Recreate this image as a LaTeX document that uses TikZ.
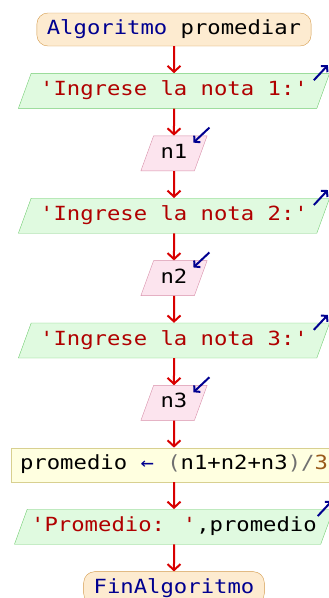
\documentclass[tikz,border=0pt]{standalone}
\usepackage{fontspec}
\usepackage{xcolor}
\usetikzlibrary{positioning,arrows.meta,shapes.geometric}
\newfontfamily\psefont[FakeStretch=1.14,Ligatures=TeXOff]{DejaVu Sans Mono}
\definecolor{flowred}{HTML}{D80000}
\definecolor{kwblue}{HTML}{000090}
\definecolor{strred}{HTML}{B00000}
\definecolor{numbrown}{HTML}{9A5A1A}
\definecolor{opgray}{HTML}{707070}
\definecolor{termfill}{HTML}{FDEBD0}
\definecolor{termdraw}{HTML}{D49A4A}
\definecolor{iofill}{HTML}{E0FAE0}
\definecolor{iodraw}{HTML}{70CC70}
\definecolor{readfill}{HTML}{FCE4EE}
\definecolor{readdraw}{HTML}{D890AA}
\definecolor{asgfill}{HTML}{FFFFE0}
\definecolor{asgdraw}{HTML}{D8D090}

\begin{document}
\begin{tikzpicture}[
    x=1pt, y=1pt,
    node distance=27pt,
    font=\psefont\fontsize{19.5}{22}\selectfont,
    term/.style={draw=termdraw, fill=termfill, rounded corners=11pt, minimum height=33pt, inner xsep=10pt, text height=14pt, text depth=4pt},
    io/.style={draw=iodraw, fill=iofill, trapezium, trapezium left angle=70, trapezium right angle=110, inner ysep=8.5pt, inner xsep=9pt, text height=14pt, text depth=4pt},
    readbox/.style={io, draw=readdraw, fill=readfill, inner xsep=7pt},
    asgbox/.style={draw=asgdraw, fill=asgfill, minimum height=34pt, inner xsep=9pt, text height=14pt, text depth=4pt},
    flow/.style={-{Straight Barb[length=6pt,width=13pt]}, flowred, line width=2pt},
    tag/.style={-{Straight Barb[length=4pt,width=9pt]}, kwblue, line width=2pt}
]
\useasboundingbox (0,0) rectangle (329,-598);

\node[term] (inicio) at (174,-29.5) {{\color{kwblue}Algoritmo} promediar};
\node[io, below=of inicio] (msg1) {\color{strred}'Ingrese la nota 1:'};
\node[readbox, below=of msg1] (n1) {n1};
\node[io, below=of n1] (msg2) {\color{strred}'Ingrese la nota 2:'};
\node[readbox, below=of msg2] (n2) {n2};
\node[io, below=of n2] (msg3) {\color{strred}'Ingrese la nota 3:'};
\node[readbox, below=of msg3] (n3) {n3};
\node[asgbox, below=of n3] (calc) {promedio {\color{kwblue}←} {\color{opgray}(}n1+n2+n3{\color{opgray})/}{\color{numbrown}3}};
\node[io, below=of calc, inner xsep=4pt] (salida) {{\color{strred}'Promedio: '},promedio};
\node[term, below=of salida] (fin) {\color{kwblue}FinAlgoritmo};

\draw[flow] (inicio) -- (msg1);
\draw[flow] (msg1) -- (n1);
\draw[flow] (n1) -- (msg2);
\draw[flow] (msg2) -- (n2);
\draw[flow] (n2) -- (msg3);
\draw[flow] (msg3) -- (n3);
\draw[flow] (n3) -- (calc);
\draw[flow] (calc) -- (salida);
\draw[flow] (salida) -- (fin);

% write marks (out) and read marks (in)
\draw[tag] ([shift={(-16,-7)}]msg1.top right corner) -- ([shift={(-2,8)}]msg1.top right corner);
\draw[tag] ([shift={(-16,-7)}]msg2.top right corner) -- ([shift={(-2,8)}]msg2.top right corner);
\draw[tag] ([shift={(-16,-7)}]msg3.top right corner) -- ([shift={(-2,8)}]msg3.top right corner);
\draw[tag] ([shift={(-16,-7)}]salida.top right corner) -- ([shift={(-2,8)}]salida.top right corner);
\draw[tag] ([shift={(2,8)}]n1.top right corner) -- ([shift={(-14,-7)}]n1.top right corner);
\draw[tag] ([shift={(2,8)}]n2.top right corner) -- ([shift={(-14,-7)}]n2.top right corner);
\draw[tag] ([shift={(2,8)}]n3.top right corner) -- ([shift={(-14,-7)}]n3.top right corner);

\end{tikzpicture}
\end{document}
